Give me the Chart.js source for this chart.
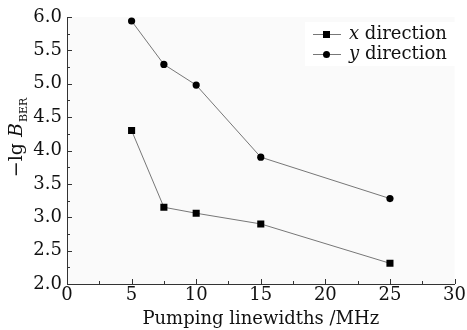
<!DOCTYPE html>
<html>
<head>
<meta charset="utf-8">
<script src="https://cdn.jsdelivr.net/npm/chart.js@4/dist/chart.umd.min.js"></script>
<style>
  html, body { margin: 0; padding: 0; background: #fff; }
  #wrap { width: 467px; height: 330px; }
</style>
</head>
<body>
<div id="wrap"><canvas id="chart"></canvas></div>
<script>
const linewidths = [5, 7.5, 10, 15, 25];
const xDirection = [4.30, 3.15, 3.06, 2.90, 2.31];
const yDirection = [5.94, 5.29, 4.98, 3.90, 3.28];
const seriesNames = ['x', 'y'];
const xRange = [0, 30];
const yRange = [2.0, 6.0];

const SERIF = "'DejaVu Serif', serif";

function toPoints(values) {
    return linewidths.map((w, i) => ({ x: w, y: values[i] }));
}

// background, inward ticks, y title and legend
const decor = {
    id: 'decor',
    beforeDraw(chart) {
        const { ctx, chartArea: a } = chart;
        ctx.save();
        ctx.fillStyle = '#fafafa';
        ctx.fillRect(a.left, a.top, a.right - a.left, a.bottom - a.top);
        ctx.restore();
    },
    afterDraw(chart) {
        const { ctx, chartArea: a, scales } = chart;
        ctx.save();
        ctx.strokeStyle = '#333';
        ctx.lineWidth = 1;
        ctx.beginPath();
        for (let v = xRange[0]; v <= xRange[1] + 0.01; v += 2.5) {
            const px = Math.round(scales.x.getPixelForValue(v)) + 0.5;
            const len = (v % 5 === 0) ? 5 : 3;
            ctx.moveTo(px, a.bottom);
            ctx.lineTo(px, a.bottom - len);
        }
        for (let v = yRange[0]; v <= yRange[1] + 0.01; v += 0.25) {
            const py = Math.round(scales.y.getPixelForValue(v)) + 0.5;
            const len = (Math.abs(v * 2 - Math.round(v * 2)) < 0.01) ? 5 : 3;
            ctx.moveTo(a.left, py);
            ctx.lineTo(a.left + len, py);
        }
        ctx.stroke();

        // y axis title: −lg B_BER
        ctx.translate(22, 138);
        ctx.rotate(-Math.PI / 2);
        ctx.fillStyle = '#111';
        ctx.textBaseline = 'alphabetic';
        const f1 = '19px ' + SERIF;
        const f2 = 'italic 19px ' + SERIF;
        const f3 = '11px ' + SERIF;
        ctx.font = f1; const w1 = ctx.measureText('\u2212lg ').width;
        ctx.font = f2; const w2 = ctx.measureText('B').width;
        ctx.font = f3; const w3 = ctx.measureText('BER').width;
        let x0 = -(w1 + w2 + w3) / 2;
        ctx.font = f1; ctx.fillText('\u2212lg ', x0, 0); x0 += w1;
        ctx.font = f2; ctx.fillText('B', x0, 0); x0 += w2 + 1;
        ctx.font = f3; ctx.fillText('BER', x0, 5);
        ctx.restore();

        // legend
        ctx.save();
        ctx.fillStyle = '#fff';
        ctx.fillRect(305, 22, 152, 44);
        const rows = [34, 54];
        chart.data.datasets.forEach((ds, i) => {
            const y = rows[i];
            ctx.strokeStyle = '#777';
            ctx.lineWidth = 1;
            ctx.beginPath();
            ctx.moveTo(313, y + 0.5);
            ctx.lineTo(341, y + 0.5);
            ctx.stroke();
            ctx.fillStyle = '#000';
            if (ds.pointStyle === 'rect') {
                ctx.fillRect(323, y - 3, 7, 7);
            } else {
                ctx.beginPath();
                ctx.arc(326.5, y + 0.5, 3.5, 0, Math.PI * 2);
                ctx.fill();
            }
            ctx.fillStyle = '#111';
            ctx.textBaseline = 'middle';
            ctx.font = 'italic 18px ' + SERIF;
            ctx.fillText(seriesNames[i], 349, y);
            const w = ctx.measureText(seriesNames[i]).width;
            ctx.font = '18px ' + SERIF;
            ctx.fillText(' direction', 349 + w, y);
        });
        ctx.restore();
    }
};

const ctx = document.getElementById('chart').getContext('2d');
new Chart(ctx, {
    type: 'line',
    data: {
        datasets: [{
            label: 'x direction',
            data: toPoints(xDirection),
            borderColor: '#777',
            borderWidth: 1,
            pointStyle: 'rect',
            pointRadius: 5,
            pointBackgroundColor: '#000',
            pointBorderColor: '#000',
            pointBorderWidth: 0,
            tension: 0
        }, {
            label: 'y direction',
            data: toPoints(yDirection),
            borderColor: '#777',
            borderWidth: 1,
            pointStyle: 'circle',
            pointRadius: 3.6,
            pointBackgroundColor: '#000',
            pointBorderColor: '#000',
            pointBorderWidth: 0,
            tension: 0
        }]
    },
    options: {
        responsive: true,
        maintainAspectRatio: false,
        animation: false,
        devicePixelRatio: 1,
        layout: { padding: { top: 17, right: 11, left: 0, bottom: 0 } },
        plugins: {
            legend: { display: false },
            tooltip: { enabled: false }
        },
        scales: {
            x: {
                type: 'linear',
                min: xRange[0],
                max: xRange[1],
                ticks: {
                    stepSize: 5,
                    color: '#111',
                    padding: 1,
                    font: { family: SERIF, size: 18 }
                },
                grid: { display: false, drawTicks: false },
                border: { display: true, color: '#333', width: 1 },
                title: {
                    display: true,
                    text: 'Pumping linewidths /MHz',
                    color: '#111',
                    padding: { top: 0, bottom: 0 },
                    font: { family: SERIF, size: 18 }
                },
                afterFit: s => { s.height = 46; }
            },
            y: {
                min: yRange[0],
                max: yRange[1],
                ticks: {
                    stepSize: 0.5,
                    color: '#111',
                    padding: 5,
                    font: { family: SERIF, size: 18 },
                    callback: v => v.toFixed(1)
                },
                grid: { display: false, drawTicks: false },
                border: { display: true, color: '#333', width: 1 },
                afterFit: s => { s.width = 67; }
            }
        }
    },
    plugins: [decor]
});
</script>
</body>
</html>
